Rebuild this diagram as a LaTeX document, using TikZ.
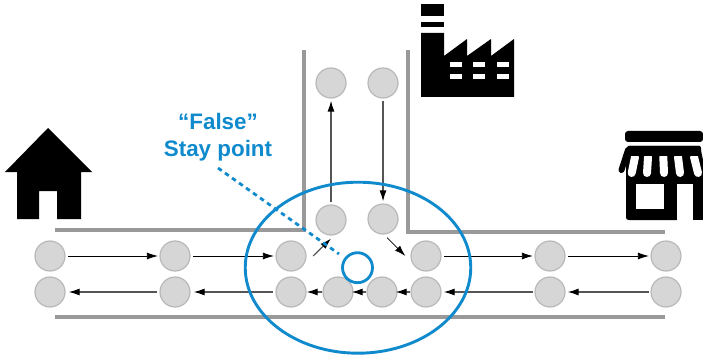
\documentclass[tikz,border=0pt]{standalone}
\usepackage{fontspec}
\setmainfont{Liberation Sans}
\usetikzlibrary{arrows.meta,shapes.geometric}
\definecolor{bluemark}{HTML}{0F8ACD}
\definecolor{wall}{HTML}{999999}
\definecolor{stopfill}{HTML}{D6D6D6}
\definecolor{stopline}{HTML}{B8B8B8}
\definecolor{softline}{HTML}{555555}
\tikzset{
  stopnode/.style={circle,draw=stopline,fill=stopfill,line width=1.2pt,minimum size=30pt,inner sep=0pt},
  flow/.style={draw=black,line width=0.8pt,-{Latex[length=11pt,width=7pt]}},
  softflow/.style={draw=softline,line width=1.2pt,-{Latex[length=11pt,width=7pt,color=black]}},
  wallline/.style={draw=wall,line width=3.2pt},
  iconfill/.style={fill=black,draw=none},
  iconhole/.style={fill=white,draw=none},
  scallop/.style={draw=white,line width=8pt,line cap=round},
  lbl/.style={text=bluemark,font=\bfseries\fontsize{22.4}{24}\selectfont,inner sep=0pt,anchor=base}
}
\begin{document}
\begin{tikzpicture}[x=1pt,y=-1pt]
\useasboundingbox (0,0) rectangle (703,358);
% walls
\draw[wallline] (55,230) -- (304,230) -- (304,50);
\draw[wallline] (408,50) -- (408,232) -- (665,232);
\draw[wallline] (55,317) -- (665,317);
% stops
\foreach \n/\x in {a1/50,a2/175,a3/291,a4/426,a5/550,a6/666}
  \node[stopnode] (\n) at (\x,256) {};
\foreach \n/\x in {b1/50,b2/175,b3/291,b4/338,b5/382,b6/426,b7/550,b8/666}
  \node[stopnode] (\n) at (\x,292) {};
\node[stopnode] (u1) at (331,220) {};
\node[stopnode] (u2) at (383,219) {};
\node[stopnode] (t1) at (331,83) {};
\node[stopnode] (t2) at (383,83) {};
% arrows
\draw[flow,shorten <=2.5pt,shorten >=1.5pt] (a1) -- (a2);
\draw[flow,shorten <=2.5pt,shorten >=1.5pt] (a2) -- (a3);
\draw[flow,shorten <=2.5pt,shorten >=1.5pt] (a4) -- (a5);
\draw[flow,shorten <=2.5pt,shorten >=1.5pt] (a5) -- (a6);
\draw[softflow] ([xshift=6.5pt]a3.east) -- ([yshift=-3pt]u1.south);
\draw[flow] ([xshift=4pt,yshift=-3pt]u2.south) -- ([xshift=-5pt]a4.west);
\draw[softflow,shorten <=2pt,shorten >=2pt] (u1) -- (t1);
\draw[softflow,shorten <=2pt,shorten >=2pt] (t2) -- (u2);
\draw[softflow,shorten <=1pt,shorten >=2pt] (b8) -- (b7);
\draw[softflow,shorten <=1pt,shorten >=2pt] (b7) -- (b6);
\draw[softflow,shorten >=-2pt] (b6) -- (b5);
\draw[softflow,shorten >=-2pt] (b5) -- (b4);
\draw[softflow] (b4) -- (b3);
\draw[softflow,shorten <=2pt,shorten >=3pt] (b3) -- (b2);
\draw[softflow,shorten <=2pt,shorten >=3pt] (b2) -- (b1);
% false stay point
\node[circle,draw=bluemark,line width=2.8pt,minimum size=30pt,inner sep=0pt] (s) at (357.5,267.7) {};
\node[ellipse,draw=bluemark,line width=2.9pt,minimum width=225.5pt,minimum height=171pt,inner sep=0pt] (e) at (358,267.7) {};
\node[lbl] (f) at (218,130) {“False”};
\node[lbl] (sp) at (218,157) {Stay point};
\coordinate (d0) at (218,168);
\coordinate (d1) at (339,254);
\draw[bluemark,line width=2.8pt,dash pattern=on 4.6pt off 4pt] (d0) -- (d1);
% house
\fill[iconfill] (48,128) -- (92,172) -- (81,172) -- (81,219) -- (57,219) -- (57,191) -- (39,191) -- (39,219) -- (17,219) -- (17,172) -- (5,172) -- cycle;
% factory
\fill[iconfill] (421,4) rectangle (444,16);
\fill[iconfill] (421,22) rectangle (444,27);
\fill[iconfill] (421,33) -- (444,33) -- (444,56) -- (467,39) -- (467,56) -- (491,39) -- (491,56) -- (514,39) -- (514,97) -- (421,97) -- cycle;
\foreach \x in {450,473,497}{
  \fill[iconhole] (\x,62) rectangle +(12,5.5);
  \fill[iconhole] (\x,74) rectangle +(12,5.5);
}
% store
\fill[iconfill,rounded corners=3pt] (625,131) rectangle (703,142);
\fill[iconfill] (628,146) -- (700,146) -- (703,160) -- (703,176) -- (626,176) -- (626,156) -- cycle;
\draw[black,line width=6pt,line cap=round] (628,150) -- (621.5,170);
\fill[iconfill,rounded corners=2.5pt] (626,170) -- (626,220) -- (680,220) -- (680,170) -- cycle;
\fill[iconfill] (670,170) rectangle (703,220);
\draw[scallop] (635,157) -- (631.7,173);
\draw[scallop] (648,157) -- (647,173);
\draw[scallop] (663.3,157) -- (664,173);
\draw[scallop] (678,157) -- (680,173);
\draw[scallop] (694,157) -- (698,173);
\fill[iconfill,rounded corners=2pt] (627,146) rectangle (701,156);
\fill[iconhole] (636,184) rectangle (664,209);
\fill[iconhole] (677,184) rectangle (693,221);
\end{tikzpicture}
\end{document}
